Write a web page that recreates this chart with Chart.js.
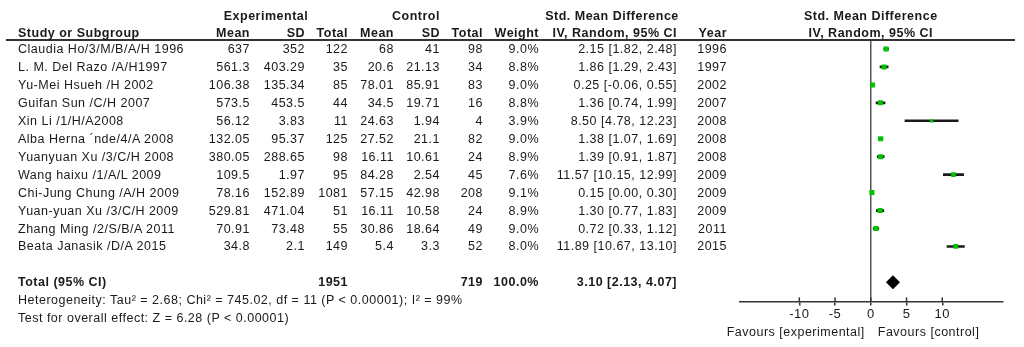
<!DOCTYPE html>
<html>
<head>
<meta charset="utf-8">
<script src="https://cdn.jsdelivr.net/npm/chart.js@4.4.1/dist/chart.umd.min.js"></script>
<style>
  body { margin: 0; background: #fff; }
  #wrap { position: relative; width: 1024px; height: 347px; overflow: hidden;
          font-family: "Liberation Sans", Arial, sans-serif; font-size: 12.5px; letter-spacing: 0.5px; color: #1a1a1a; }
  #plot { position: absolute; left: 0; top: 0; }
  .t { position: absolute; white-space: nowrap; line-height: 18px; height: 18px; }
  .b { font-weight: bold; }
  .r { text-align: right; }
  .c { text-align: center; }
  #hline { position: absolute; left: 6px; top: 39px; width: 1009px; height: 2px; background: #333; }
</style>
</head>
<body>
<div id="wrap">
  <canvas id="plot" width="1024" height="347"></canvas>
  <div id="hline"></div>
</div>
<script>
// Study data
const studies = [
  'Claudia Ho/3/M/B/A/H 1996', 'L. M. Del Razo /A/H1997', 'Yu-Mei Hsueh /H 2002', 'Guifan Sun /C/H 2007',
  'Xin Li /1/H/A2008', 'Alba Herna \u00b4nde/4/A 2008', 'Yuanyuan Xu /3/C/H 2008', 'Wang haixu /1/A/L 2009',
  'Chi-Jung Chung /A/H 2009', 'Yuan-yuan Xu /3/C/H 2009', 'Zhang Ming /2/S/B/A 2011', 'Beata Janasik /D/A 2015'
];
const expMean = [637, 561.3, 106.38, 573.5, 56.12, 132.05, 380.05, 109.5, 78.16, 529.81, 70.91, 34.8];
const expSD = [352, 403.29, 135.34, 453.5, 3.83, 95.37, 288.65, 1.97, 152.89, 471.04, 73.48, 2.1];
const expTotal = [122, 35, 85, 44, 11, 125, 98, 95, 1081, 51, 55, 149];
const ctlMean = [68, 20.6, 78.01, 34.5, 24.63, 27.52, 16.11, 84.28, 57.15, 16.11, 30.86, 5.4];
const ctlSD = [41, 21.13, 85.91, 19.71, 1.94, 21.1, 10.61, 2.54, 42.98, 10.58, 18.64, 3.3];
const ctlTotal = [98, 34, 83, 16, 4, 82, 24, 45, 208, 24, 49, 52];
const weights = [9.0, 8.8, 9.0, 8.8, 3.9, 9.0, 8.9, 7.6, 9.1, 8.9, 9.0, 8.0];
const smd = [2.15, 1.86, 0.25, 1.36, 8.50, 1.38, 1.39, 11.57, 0.15, 1.30, 0.72, 11.89];
const ciLow = [1.82, 1.29, -0.06, 0.74, 4.78, 1.07, 0.91, 10.15, 0.00, 0.77, 0.33, 10.67];
const ciHigh = [2.48, 2.43, 0.55, 1.99, 12.23, 1.69, 1.87, 12.99, 0.30, 1.83, 1.12, 13.10];
const years = [1996, 1997, 2002, 2007, 2008, 2008, 2008, 2009, 2009, 2009, 2011, 2015];

// Pooled result
const totalExp = 1951;
const totalCtl = 719;
const totalWeight = 100.0;
const pooled = [3.10, 2.13, 4.07];
const heterogeneity = 'Heterogeneity: Tau\u00b2 = 2.68; Chi\u00b2 = 745.02, df = 11 (P < 0.00001); I\u00b2 = 99%';
const overallTest = 'Test for overall effect: Z = 6.28 (P < 0.00001)';

const xTicks = [-10, -5, 0, 5, 10];
const totalRow = studies.length + 1;

const fmtCI = (m, lo, hi) => `${m.toFixed(2)} [${lo.toFixed(2)}, ${hi.toFixed(2)}]`;

// ticks that cross the axis line
const crossTicks = {
  id: 'crossTicks',
  afterDraw(chart) {
    const x = chart.scales.x, ctx = chart.ctx, yb = chart.chartArea.bottom;
    ctx.save();
    ctx.strokeStyle = '#333';
    ctx.lineWidth = 1.5;
    x.ticks.forEach(t => {
      const px = x.getPixelForValue(t.value);
      ctx.beginPath();
      ctx.moveTo(px, yb - 4);
      ctx.lineTo(px, yb);
      ctx.stroke();
    });
    ctx.restore();
  }
};

const chart = new Chart(document.getElementById('plot'), {
  type: 'bar',
  data: {
    datasets: [
      {
        type: 'scatter',
        data: smd.map((v, i) => ({ x: v, y: i })),
        pointStyle: 'rect',
        pointRadius: ctx => 1.18 * Math.sqrt(weights[ctx.dataIndex] || 0),
        backgroundColor: '#00c400',
        borderWidth: 0,
        order: 0
      },
      {
        type: 'scatter',
        data: [{ x: pooled[0], y: totalRow }],
        pointStyle: 'rectRot',
        pointRadius: 7,
        backgroundColor: '#000',
        borderWidth: 0,
        order: 0
      },
      {
        type: 'bar',
        data: ciLow.map((lo, i) => ({ y: i, x: [lo, ciHigh[i]] })),
        backgroundColor: '#1a1a1a',
        barThickness: 2,
        order: 1
      }
    ]
  },
  options: {
    indexAxis: 'y',
    responsive: false,
    animation: false,
    layout: { padding: { left: 740, right: 21, top: 40, bottom: 24 } },
    plugins: { legend: { display: false }, tooltip: { enabled: false } },
    scales: {
      y: {
        type: 'linear', display: false, reverse: true, offset: false,
        min: -0.5, max: 14.06
      },
      x: {
        type: 'linear', min: -18.3, max: 18.5,
        afterBuildTicks: s => { s.ticks = xTicks.map(v => ({ value: v })); },
        grid: {
          drawOnChartArea: true,
          color: c => (c.tick && c.tick.value === 0 ? '#555' : 'transparent'),
          lineWidth: 1.5,
          tickColor: '#333',
          tickLength: 4
        },
        border: { display: true, color: '#333', width: 1.5 },
        ticks: {
          padding: 1,
          color: '#1a1a1a',
          font: { family: '"Liberation Sans", Arial, sans-serif', size: 13 }
        }
      }
    }
  },
  plugins: [crossTicks]
});

// table text, rows placed with the chart's own y scale
const wrap = document.getElementById('wrap');
function put(text, x, yc, align, bold) {
  const d = document.createElement('div');
  d.className = 't' + (bold ? ' b' : '');
  d.textContent = text;
  d.style.top = (yc - 9) + 'px';
  if (align === 'r') { d.style.left = (x - 200) + 'px'; d.style.width = '200px'; d.classList.add('r'); }
  else if (align === 'c') { d.style.left = (x - 150) + 'px'; d.style.width = '300px'; d.classList.add('c'); }
  else d.style.left = x + 'px';
  wrap.appendChild(d);
}

const cols = { expMean: 250, expSD: 305, expTotal: 348, ctlMean: 394, ctlSD: 440, ctlTotal: 483, weight: 539, ci: 677, year: 727 };
const ys = chart.scales.y;
const xs = chart.scales.x;
const zeroPx = xs.getPixelForValue(0);

// headers
put('Experimental', 266, 16, 'c', true);
put('Control', 416, 16, 'c', true);
put('Std. Mean Difference', 612, 16, 'c', true);
put('Std. Mean Difference', zeroPx, 16, 'c', true);
put('Study or Subgroup', 18, 33, 'l', true);
put('Mean', cols.expMean, 33, 'r', true);
put('SD', cols.expSD, 33, 'r', true);
put('Total', cols.expTotal, 33, 'r', true);
put('Mean', cols.ctlMean, 33, 'r', true);
put('SD', cols.ctlSD, 33, 'r', true);
put('Total', cols.ctlTotal, 33, 'r', true);
put('Weight', cols.weight, 33, 'r', true);
put('IV, Random, 95% CI', cols.ci, 33, 'r', true);
put('Year', cols.year, 33, 'r', true);
put('IV, Random, 95% CI', zeroPx, 33, 'c', true);

studies.forEach((s, i) => {
  const y = ys.getPixelForValue(i);
  put(s, 18, y, 'l');
  put(String(expMean[i]), cols.expMean, y, 'r');
  put(String(expSD[i]), cols.expSD, y, 'r');
  put(String(expTotal[i]), cols.expTotal, y, 'r');
  put(String(ctlMean[i]), cols.ctlMean, y, 'r');
  put(String(ctlSD[i]), cols.ctlSD, y, 'r');
  put(String(ctlTotal[i]), cols.ctlTotal, y, 'r');
  put(weights[i].toFixed(1) + '%', cols.weight, y, 'r');
  put(fmtCI(smd[i], ciLow[i], ciHigh[i]), cols.ci, y, 'r');
  put(String(years[i]), cols.year, y, 'r');
});

const yt = ys.getPixelForValue(totalRow);
put('Total (95% CI)', 18, yt, 'l', true);
put(String(totalExp), cols.expTotal, yt, 'r', true);
put(String(totalCtl), cols.ctlTotal, yt, 'r', true);
put(totalWeight.toFixed(1) + '%', cols.weight, yt, 'r', true);
put(fmtCI(pooled[0], pooled[1], pooled[2]), cols.ci, yt, 'r', true);
put(heterogeneity, 18, yt + 18, 'l');
put(overallTest, 18, yt + 36, 'l');

// favours labels either side of zero
put('Favours [experimental]', zeroPx - 6, 332, 'r');
put('Favours [control]', zeroPx + 7, 332, 'l');
</script>
</body>
</html>
